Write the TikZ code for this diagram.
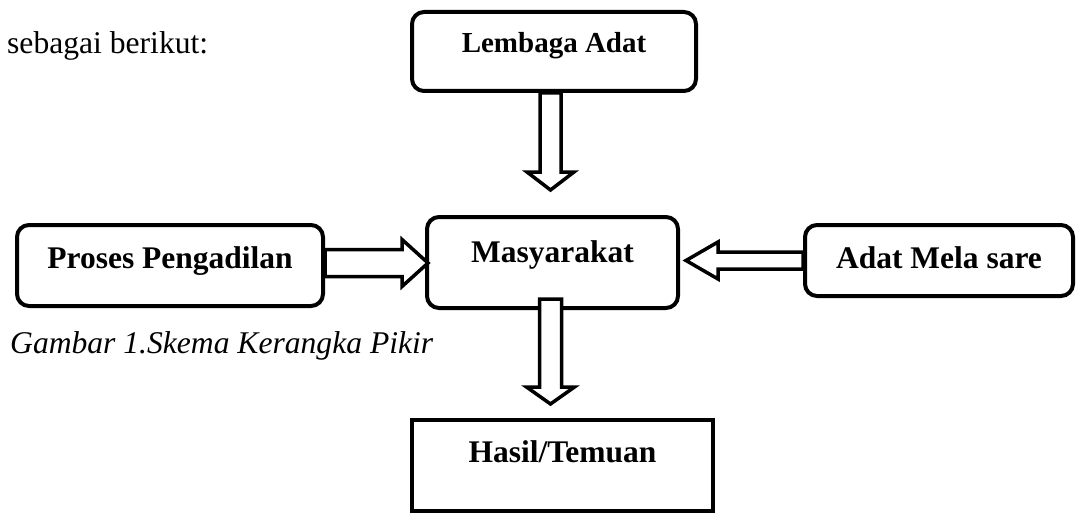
\documentclass[tikz,border=0pt]{standalone}
\usepackage{fontspec}
\setmainfont{Liberation Serif}
\usetikzlibrary{calc}
\begin{document}
\begin{tikzpicture}[
  x=1pt, y=-1pt,
  roundbox/.style={draw, line width=4pt, rounded corners=12pt, fill=white, inner sep=0pt,
    text depth=10pt, font=\bfseries\fontsize{31.5}{38}\selectfont},
  squarebox/.style={roundbox, rounded corners=0pt},
  blockarrow/.style={draw, line width=3.5pt, fill=white, line join=miter},
  plaintext/.style={anchor=base west, inner sep=0pt, font=\fontsize{31.6}{38}\selectfont}
]
  \useasboundingbox (0,0) rectangle (1076,516);
  % boxes
  \node[roundbox, minimum width=284, minimum height=79, text height=13pt, font=\bfseries\fontsize{29}{35}\selectfont] (lembaga) at (554,51.5) {Lembaga Adat};
  \node[roundbox, minimum width=251, minimum height=91, text height=9pt] (masy) at (552.5,262.5) {Masyarakat};
  \node[roundbox, minimum width=306, minimum height=81, text height=15pt] (proses) at (170,265.5) {Proses Pengadilan};
  \node[roundbox, minimum width=268, minimum height=71, text height=25pt] (adat) at (939,260.5) {Adat Mela sare};
  \node[squarebox, minimum width=301, minimum height=91, text height=3pt] (hasil) at (562.5,465.5) {Hasil/Temuan};
  % hollow block arrows
  \draw[blockarrow] ($(lembaga.south)+(-14,0)$) -- ++(0,79) -- ++(-13,0) -- ++(23.5,18) -- ++(23.5,-18) -- ++(-13,0) -- ++(0,-79) -- cycle;
  \draw[blockarrow] ($(proses.east)+(0,-16)$) -- ++(77,0) -- ++(0,-10) -- ++(26,23.5) -- ++(-26,23.5) -- ++(0,-10) -- ++(-77,0) -- cycle;
  \draw[blockarrow] ($(adat.west)+(0,-8.5)$) -- ++(-85,0) -- ++(0,-10) -- ++(-32,18.5) -- ++(32,18.5) -- ++(0,-10) -- ++(85,0) -- cycle;
  \draw[blockarrow] ($(masy.south)+(-13,-11)$) -- ++(0,88) -- ++(-13,0) -- ++(24,17) -- ++(24,-17) -- ++(-13,0) -- ++(0,-88) -- cycle;
  % surrounding text
  \node[plaintext] (intro) at (7,54) {sebagai berikut:};
  \node[plaintext, font=\itshape\fontsize{31.6}{38}\selectfont] (caption) at (10,353) {Gambar 1.Skema Kerangka Pikir};
\end{tikzpicture}
\end{document}
